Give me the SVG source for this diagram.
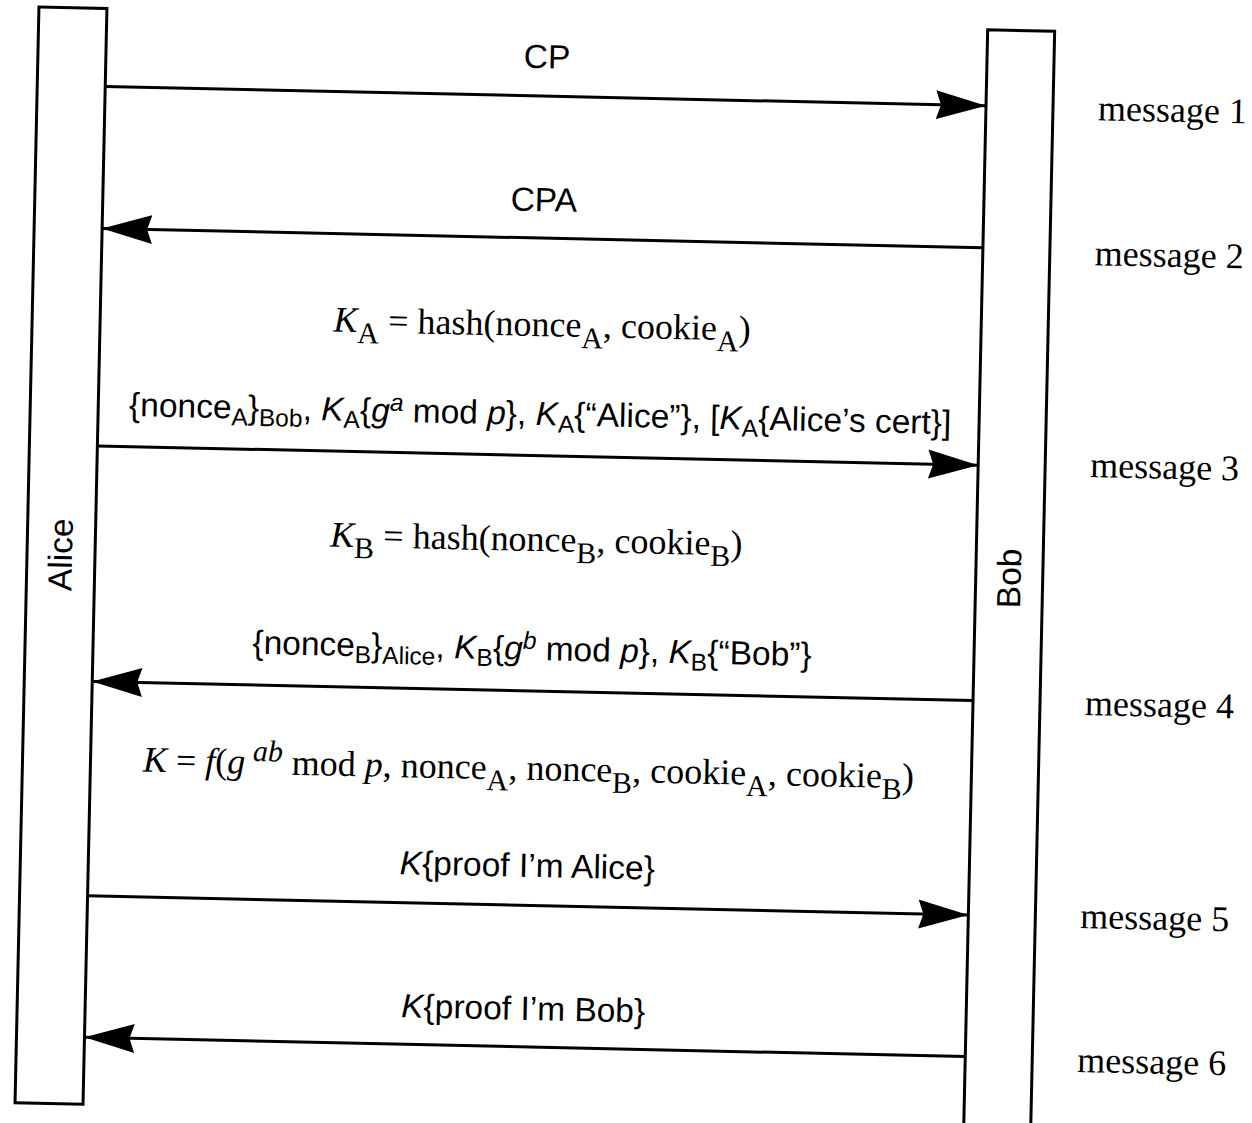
<svg xmlns="http://www.w3.org/2000/svg" width="1252" height="1123" viewBox="0 0 1252 1123">
<style>
.bar{fill:none;stroke:#000;stroke-width:3}
.msgline{fill:none;stroke:#000;stroke-width:3}
.sans{font-family:"Liberation Sans",Arial,sans-serif;font-size:33.5px;fill:#000}
.serif{font-family:"Liberation Serif","Times New Roman",serif;font-size:36px;fill:#000}
.msg{font-family:"Liberation Serif","Times New Roman",serif;font-size:36px;fill:#000}
.it{font-style:italic}
.ssub{font-size:24.5px}
.rsub{font-size:30px}
</style>
<defs>
<marker id="ah" markerUnits="userSpaceOnUse" markerWidth="52" markerHeight="32" viewBox="0 0 52 32" refX="50" refY="16" orient="auto">
<path d="M50,16 L0,1.5 L5,16 L0,30.5 Z" fill="#000"/>
</marker>
</defs>
<rect width="1252" height="1123" fill="#fff"/>
<g transform="rotate(1.25 626 561)">
<g id="alice">
<rect class="bar" x="27" y="20" width="68" height="1096"/>
<text class="sans" transform="translate(72 567) rotate(-90)" text-anchor="middle">Alice</text>
</g>
<g id="bob">
<path class="bar" d="M976,1160 L976,22 L1043,22 L1043,1160"/>
<text class="sans" transform="translate(1021 570) rotate(-90)" text-anchor="middle">Bob</text>
</g>
<g id="connectors">
<line class="msgline" x1="95" y1="98" x2="976" y2="98" marker-end="url(#ah)"/>
<line class="msgline" x1="976" y1="240" x2="95" y2="240" marker-end="url(#ah)"/>
<line class="msgline" x1="95" y1="457.5" x2="976" y2="457.5" marker-end="url(#ah)"/>
<line class="msgline" x1="976" y1="693" x2="95" y2="693" marker-end="url(#ah)"/>
<line class="msgline" x1="95" y1="907.5" x2="976" y2="907.5" marker-end="url(#ah)"/>
<line class="msgline" x1="976" y1="1049" x2="95" y2="1049" marker-end="url(#ah)"/>
</g>
<g id="labels">
<text class="sans" x="536" y="70" text-anchor="middle">CP</text>
<text class="sans" x="536" y="213" text-anchor="middle">CPA</text>
<text class="serif" x="537" y="338" text-anchor="middle"><tspan class="it">K</tspan><tspan class="rsub" dy="11">A</tspan><tspan dy="-11"> = hash(nonce</tspan><tspan class="rsub" dy="11">A</tspan><tspan dy="-11">, cookie</tspan><tspan class="rsub" dy="11">A</tspan><tspan dy="-11">)</tspan></text>
<text class="sans" x="537" y="427" text-anchor="middle">{nonce<tspan class="ssub" dy="7">A</tspan><tspan dy="-7">}</tspan><tspan class="ssub" dy="7">Bob</tspan><tspan dy="-7">, </tspan><tspan class="it">K</tspan><tspan class="ssub" dy="7">A</tspan><tspan dy="-7">{</tspan><tspan class="it">g</tspan><tspan class="ssub it" dy="-11">a</tspan><tspan dy="11"> mod </tspan><tspan class="it">p</tspan>}, <tspan class="it">K</tspan><tspan class="ssub" dy="7">A</tspan><tspan dy="-7">{“Alice”}, [</tspan><tspan class="it">K</tspan><tspan class="ssub" dy="7">A</tspan><tspan dy="-7">{Alice’s cert}]</tspan></text>
<text class="serif" x="536" y="553" text-anchor="middle"><tspan class="it">K</tspan><tspan class="rsub" dy="11">B</tspan><tspan dy="-11"> = hash(nonce</tspan><tspan class="rsub" dy="11">B</tspan><tspan dy="-11">, cookie</tspan><tspan class="rsub" dy="11">B</tspan><tspan dy="-11">)</tspan></text>
<text class="sans" x="534" y="662" text-anchor="middle">{nonce<tspan class="ssub" dy="7">B</tspan><tspan dy="-7">}</tspan><tspan class="ssub" dy="7">Alice</tspan><tspan dy="-7">, </tspan><tspan class="it">K</tspan><tspan class="ssub" dy="7">B</tspan><tspan dy="-7">{</tspan><tspan class="it">g</tspan><tspan class="ssub it" dy="-11">b</tspan><tspan dy="11"> mod </tspan><tspan class="it">p</tspan>}, <tspan class="it">K</tspan><tspan class="ssub" dy="7">B</tspan><tspan dy="-7">{“Bob”}</tspan></text>
<text class="serif" x="533" y="782" text-anchor="middle"><tspan class="it">K</tspan> = <tspan class="it">f</tspan>(<tspan class="it">g</tspan><tspan class="rsub it" dy="-13"> ab</tspan><tspan dy="13"> mod </tspan><tspan class="it">p</tspan>, nonce<tspan class="rsub" dy="11">A</tspan><tspan dy="-11">, nonce</tspan><tspan class="rsub" dy="11">B</tspan><tspan dy="-11">, cookie</tspan><tspan class="rsub" dy="11">A</tspan><tspan dy="-11">, cookie</tspan><tspan class="rsub" dy="11">B</tspan><tspan dy="-11">)</tspan></text>
<text class="sans" x="534" y="879" text-anchor="middle"><tspan class="it">K</tspan>{proof I’m Alice}</text>
<text class="sans" x="533" y="1022" text-anchor="middle"><tspan class="it">K</tspan>{proof I’m Bob}</text>
<text class="msg" x="1088" y="110">message 1</text>
<text class="msg" x="1088" y="255">message 2</text>
<text class="msg" x="1088" y="467">message 3</text>
<text class="msg" x="1088" y="705">message 4</text>
<text class="msg" x="1088" y="918">message 5</text>
<text class="msg" x="1088" y="1062">message 6</text>
</g>
</g>
</svg>
